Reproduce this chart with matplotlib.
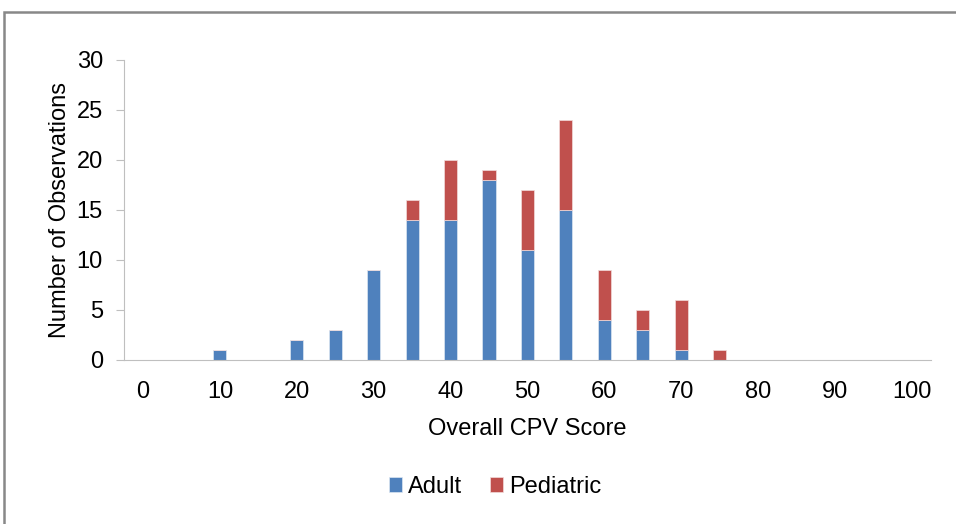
import numpy as np
import matplotlib
matplotlib.use('Agg')
import matplotlib.pyplot as plt
from matplotlib.patches import Rectangle

plt.rcParams['font.family'] = ['Liberation Sans', 'DejaVu Sans']

# score bins (every 5), labels shown every 10
scores = [0, 5, 10, 15, 20, 25, 30, 35, 40, 45, 50, 55, 60, 65, 70, 75, 80, 85, 90, 95, 100]
adult = [0, 0, 1, 0, 2, 3, 9, 14, 14, 18, 11, 15, 4, 3, 1, 0, 0, 0, 0, 0, 0]
pediatric = [0, 0, 0, 0, 0, 0, 0, 2, 6, 1, 6, 9, 5, 2, 5, 1, 0, 0, 0, 0, 0]

blue = '#4F81BD'
red = '#C0504D'

fig = plt.figure(figsize=(9.56, 5.24), dpi=100)
ax = fig.add_axes([0.1295, 0.313, 0.8445, 0.5725])

x = np.arange(len(scores))
w = 0.34
ax.bar(x, adult, width=w, color=blue, edgecolor='#dce6f2', linewidth=0.5, label='Adult')
ax.bar(x, pediatric, width=w, bottom=adult, color=red, edgecolor='#f2dcdb', linewidth=0.5, label='Pediatric')

ax.set_xlim(-0.5, len(scores) - 0.5)
ax.set_ylim(0, 30)
ax.set_yticks(range(0, 31, 5))
ax.set_xticks(x[::2])
ax.set_xticklabels([str(s) for s in scores[::2]])

for side in ['top', 'right']:
    ax.spines[side].set_visible(False)
ax.spines['left'].set_color('#bfbfbf')
ax.spines['bottom'].set_color('#bfbfbf')
ax.tick_params(axis='y', length=6, color='#bfbfbf', labelsize=17, pad=9)
ax.tick_params(axis='x', length=0, labelsize=17, pad=15)

ax.set_xlabel('Overall CPV Score', fontsize=17, labelpad=11)
ax.set_ylabel('Number of Observations', fontsize=17, labelpad=4)

fig.legend(loc='center', bbox_to_anchor=(0.518, 0.071), ncol=2, frameon=False,
           fontsize=17, handlelength=0.55, handleheight=0.55, handletextpad=0.25,
           columnspacing=1.2)

# outer chart border (cropped on right/bottom)
fig.patches.append(Rectangle((4 / 956, -0.05), 1.1, 1 - 12 / 524 + 0.05,
                             transform=fig.transFigure, fill=False,
                             edgecolor='#888888', linewidth=1.8))

fig.savefig('out.png', dpi=100)
